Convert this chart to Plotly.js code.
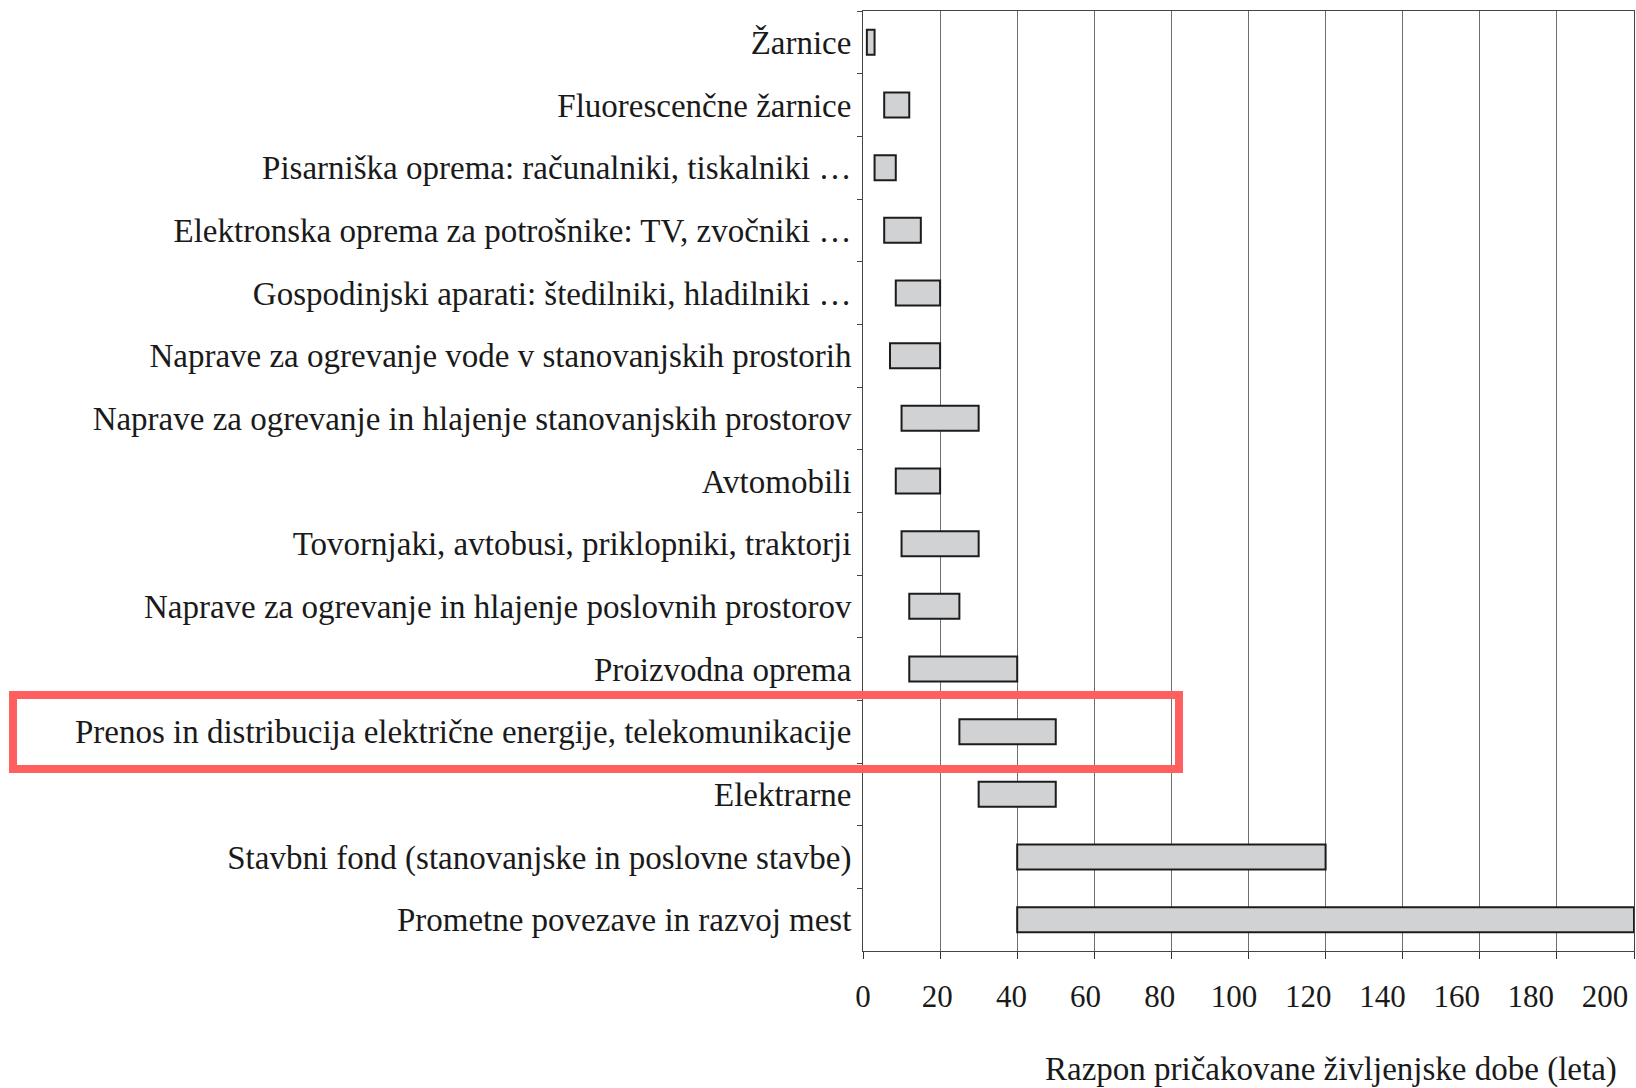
<!DOCTYPE html>
<html>
<head>
<meta charset="utf-8">
<script src="https://cdn.plot.ly/plotly-3.0.1.min.js"></script>
<style>
  html, body { margin: 0; padding: 0; background: #ffffff; }
  #chart { width: 1636px; height: 1088px; }
</style>
</head>
<body>
<div id="chart"></div>
<script>
// Categories, top to bottom
const categories = [
  "Žarnice",
  "Fluorescenčne žarnice",
  "Pisarniška oprema: računalniki, tiskalniki …",
  "Elektronska oprema za potrošnike: TV, zvočniki …",
  "Gospodinjski aparati: štedilniki, hladilniki …",
  "Naprave za ogrevanje vode v stanovanjskih prostorih",
  "Naprave za ogrevanje in hlajenje stanovanjskih prostorov",
  "Avtomobili",
  "Tovornjaki, avtobusi, priklopniki, traktorji",
  "Naprave za ogrevanje in hlajenje poslovnih prostorov",
  "Proizvodna oprema",
  "Prenos in distribucija električne energije, telekomunikacije",
  "Elektrarne",
  "Stavbni fond (stanovanjske in poslovne stavbe)",
  "Prometne povezave in razvoj mest"
];
// Expected lifetime range (years): start and end
const lifeStart = [1, 5.5, 3, 5.5, 8.5, 7, 10, 8.5, 10, 12, 12, 25, 30, 40, 40];
const lifeEnd   = [3, 12, 8.5, 15, 20, 20, 30, 20, 30, 25, 40, 50, 50, 120, 200];
const xTicks = [0, 20, 40, 60, 80, 100, 120, 140, 160, 180, 200];
const xTitle = "Razpon pričakovane življenjske dobe (leta)";

const FONT = '"Liberation Serif", "DejaVu Serif", serif';
const TXT = '#1a1a1a';

const trace = {
  type: 'bar',
  orientation: 'h',
  y: categories,
  base: lifeStart,
  x: lifeEnd.map((e, i) => e - lifeStart[i]),
  width: 0.4,
  marker: { color: '#d1d2d4', line: { color: '#1c1c1c', width: 2 } },
  hoverinfo: 'skip'
};
// empty trace that only carries the label axis (x2)
const labelAxisCarrier = {
  type: 'scatter', mode: 'markers',
  x: [], y: [],
  xaxis: 'x2', yaxis: 'y',
  hoverinfo: 'skip', showlegend: false
};

const L = 863, R = 2, T = 11, B = 137, W = 1636, H = 1088;
const pw = W - L - R, ph = H - T - B;
const px = v => (v - L) / pw;
const py = v => (H - B - v) / ph;

const layout = {
  width: W, height: H,
  margin: { l: L, r: R, t: T, b: B, pad: 0 },
  paper_bgcolor: '#ffffff', plot_bgcolor: '#ffffff',
  showlegend: false,
  font: { family: FONT, color: TXT, size: 33 },
  xaxis: {
    range: [0, 200],
    tickvals: xTicks,
    showticklabels: false,
    ticks: 'outside', ticklen: 7, tickwidth: 1, tickcolor: '#333333',
    showgrid: true, gridcolor: '#6e6e6e', gridwidth: 1,
    showline: true, linecolor: '#444444', linewidth: 1, mirror: true,
    zeroline: false,
    fixedrange: true
  },
  // label-only axis: the printed tick numbers sit on a slightly narrower scale than the grid
  xaxis2: {
    overlaying: 'x', anchor: 'y', side: 'bottom',
    range: [0, 207.8],
    autorange: false,
    tickvals: xTicks,
    ticktext: xTicks.map(String),
    ticks: '', showgrid: false, showline: false, zeroline: false,
    tickfont: { family: FONT, size: 31, color: TXT },
    ticklabelstandoff: 24,
    ticklabeloverflow: 'allow',
    fixedrange: true
  },
  yaxis: {
    type: 'category',
    autorange: 'reversed',
    ticks: 'outside', ticklen: 5, tickwidth: 1, tickcolor: '#444444',
    tickson: 'boundaries',
    showgrid: false,
    showline: true, linecolor: '#444444', linewidth: 1, mirror: true,
    zeroline: false,
    tickfont: { family: FONT, size: 33, color: TXT },
    ticklabelstandoff: 4,
    ticklabeloverflow: 'allow',
    fixedrange: true
  },
  annotations: [{
    xref: 'paper', yref: 'paper',
    x: px(1619), y: py(1069),
    xanchor: 'right', yanchor: 'middle',
    text: xTitle, showarrow: false,
    font: { family: FONT, size: 33, color: TXT }
  }],
  shapes: [{
    type: 'rect', xref: 'paper', yref: 'paper',
    x0: px(13), x1: px(1179), y0: py(769), y1: py(695),
    line: { color: '#ff5f5f', width: 8 },
    fillcolor: 'rgba(0,0,0,0)', layer: 'above'
  }]
};

Plotly.newPlot('chart', [trace, labelAxisCarrier], layout, { displayModeBar: false, staticPlot: true });
</script>
</body>
</html>
